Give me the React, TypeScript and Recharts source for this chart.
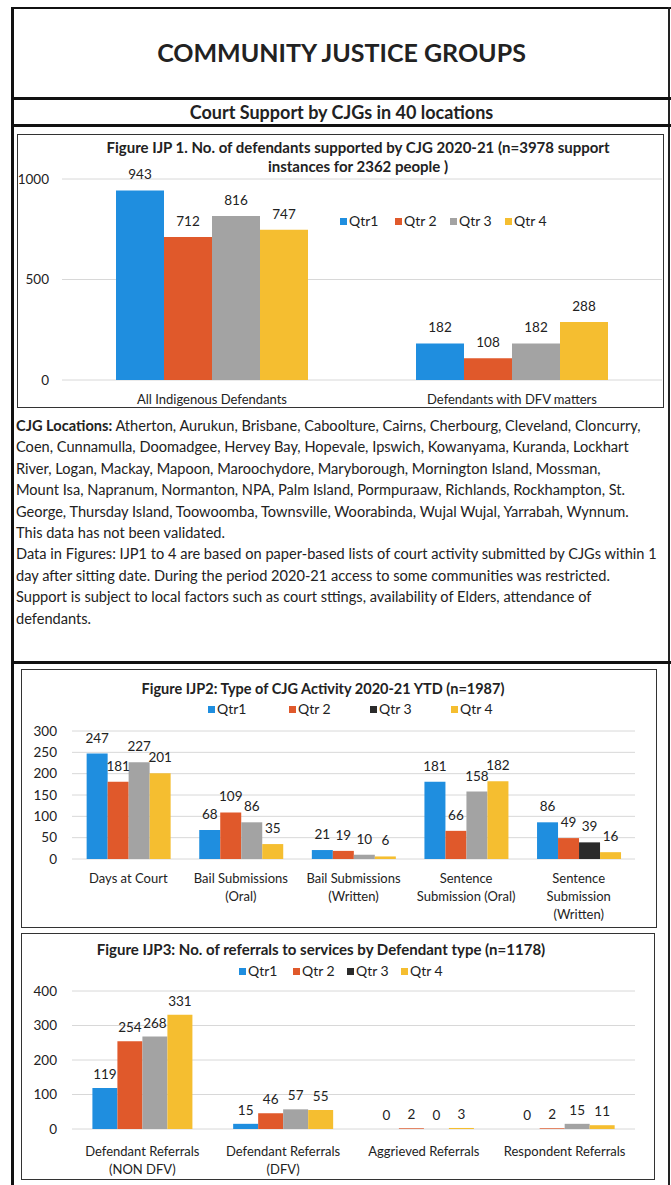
import React from "react";
import {
  BarChart,
  Bar,
  XAxis,
  YAxis,
  CartesianGrid,
  Legend,
  LabelList,
  Cell,
} from "recharts";

const FONT = "Lato, 'Open Sans', sans-serif";

const quarters = ["Qtr1", "Qtr 2", "Qtr 3", "Qtr 4"];

// Figure IJP 1
const ijp1Categories = ["All Indigenous Defendants", "Defendants with DFV matters"];
const ijp1Qtr1 = [943, 182];
const ijp1Qtr2 = [712, 108];
const ijp1Qtr3 = [816, 182];
const ijp1Qtr4 = [747, 288];
const ijp1Ticks = [0, 500, 1000];

// Figure IJP2
const ijp2Categories = [
  "Days at Court",
  "Bail Submissions\n(Oral)",
  "Bail Submissions\n(Written)",
  "Sentence\nSubmission (Oral)",
  "Sentence\nSubmission\n(Written)",
];
const ijp2Qtr1 = [247, 68, 21, 181, 86];
const ijp2Qtr2 = [181, 109, 19, 66, 49];
const ijp2Qtr3 = [227, 86, 10, 158, 39];
const ijp2Qtr4 = [201, 35, 6, 182, 16];
const ijp2Ticks = [0, 50, 100, 150, 200, 250, 300];

// Figure IJP3
const ijp3Categories = [
  "Defendant Referrals\n(NON DFV)",
  "Defendant Referrals\n(DFV)",
  "Aggrieved Referrals",
  "Respondent Referrals",
];
const ijp3Qtr1 = [119, 15, 0, 0];
const ijp3Qtr2 = [254, 46, 2, 2];
const ijp3Qtr3 = [268, 57, 0, 15];
const ijp3Qtr4 = [331, 55, 3, 11];
const ijp3Ticks = [0, 100, 200, 300, 400];

const locationLines = [
  "Atherton, Aurukun, Brisbane, Caboolture, Cairns, Cherbourg, Cleveland, Cloncurry,",
  "Coen, Cunnamulla, Doomadgee, Hervey Bay, Hopevale, Ipswich, Kowanyama, Kuranda, Lockhart",
  "River, Logan, Mackay, Mapoon, Maroochydore, Maryborough, Mornington Island, Mossman,",
  "Mount Isa, Napranum, Normanton, NPA, Palm Island, Pormpuraaw, Richlands, Rockhampton, St.",
  "George, Thursday Island, Toowoomba, Townsville, Woorabinda, Wujal Wujal, Yarrabah, Wynnum.",
  "This data has not been validated.",
  "Data in Figures: IJP1 to 4 are based on paper-based lists of court activity submitted by CJGs within 1",
  "day after sitting date. During the period 2020-21 access to some communities was restricted.",
  "Support is subject to local factors such as court sttings, availability of Elders, attendance of",
  "defendants.",
];

const BLUE = "#1f8edf";
const ORANGE = "#e0592b";
const GRAY = "#a3a3a3";
const YELLOW = "#f5be30";
const DARK = "#2b2b2b";

const buildRows = (cats: string[], q1: number[], q2: number[], q3: number[], q4: number[]) =>
  cats.map((name, i) => ({ name, q1: q1[i], q2: q2[i], q3: q3[i], q4: q4[i] }));

const CategoryTick = (props: any) => {
  const { x, y, payload, firstDy, lineHeight } = props;
  const lines = String(payload.value).split("\n");
  return (
    <text x={x} y={y} textAnchor="middle" fontSize={13} fill="#222" fontFamily={FONT}>
      {lines.map((l: string, i: number) => (
        <tspan key={i} x={x} dy={i === 0 ? firstDy : lineHeight}>
          {l}
        </tspan>
      ))}
    </text>
  );
};

// value label drawn above each bar, zero included
const ValueLabel = (props: any) => {
  const { x, y, width, value, offset } = props;
  if (value === undefined || value === null) return null;
  return (
    <text
      x={Number(x) + Number(width) / 2}
      y={Number(y) - offset}
      textAnchor="middle"
      fontSize={13.5}
      fill="#222"
      fontFamily={FONT}
    >
      {value}
    </text>
  );
};

// legend items kept in quarter order, Qtr 3 icon may differ from its bars
const makeLegend = (icons: string[], step: number) => (props: any) => {
  const payload = [...(props.payload || [])].sort(
    (a: any, b: any) => quarters.indexOf(a.value) - quarters.indexOf(b.value)
  );
  return (
    <div style={{ display: "flex", fontSize: 14, fontFamily: FONT, color: "#222", lineHeight: "16px" }}>
      {payload.map((p: any, i: number) => (
        <div key={i} style={{ width: step, display: "flex", alignItems: "center" }}>
          <span
            style={{ display: "inline-block", width: 7, height: 7, background: icons[i] ?? p.color, marginRight: 2 }}
          />
          {p.value}
        </div>
      ))}
    </div>
  );
};

type FigureProps = {
  rows: any[];
  ticks: number[];
  left: number;
  top: number;
  width: number;
  height: number;
  plotLeft: number;
  plotRight: number;
  plotTop: number;
  plotBottom: number;
  tickGap: number;
  categoryGap: string;
  labelOffset: number;
  tickDy: number;
  tickLineHeight: number;
  legendLeft: number;
  legendTop: number;
  legendStep: number;
  legendIcons: string[];
  darkQtr3?: number;
  title: string[];
  titleCenter: number;
  titleTop: number;
  titleSize: number;
};

const Figure = (f: FigureProps) => {
  const seriesKeys = ["q1", "q2", "q3", "q4"];
  const fills = [BLUE, ORANGE, GRAY, YELLOW];
  return (
    <>
      <div
        style={{
          position: "absolute",
          left: f.left,
          top: f.top,
          width: f.width,
          height: f.height,
          boxSizing: "border-box",
          border: "1.5px solid #333",
        }}
      />
      <div style={{ position: "absolute", left: f.left, top: f.top }}>
        <BarChart
          width={f.width}
          height={f.height}
          data={f.rows}
          margin={{ top: f.plotTop, right: f.width - f.plotRight, left: 0, bottom: 0 }}
          barCategoryGap={f.categoryGap}
          barGap={0}
        >
          <CartesianGrid vertical={false} stroke="#d8d8d8" />
          <XAxis
            dataKey="name"
            axisLine={false}
            tickLine={false}
            tickSize={0}
            interval={0}
            height={f.height - f.plotBottom}
            tick={(p: any) => <CategoryTick {...p} firstDy={f.tickDy} lineHeight={f.tickLineHeight} />}
          />
          <YAxis
            width={f.plotLeft}
            domain={[0, f.ticks[f.ticks.length - 1]]}
            ticks={f.ticks}
            interval={0}
            axisLine={false}
            tickLine={false}
            tickSize={0}
            tickMargin={f.tickGap}
            tick={{ fontSize: 13.5, fill: "#222", fontFamily: FONT }}
          />
          <Legend
            layout="horizontal"
            verticalAlign="middle"
            align="center"
            wrapperStyle={{ left: f.legendLeft, top: f.legendTop, width: "auto" }}
            content={makeLegend(f.legendIcons, f.legendStep)}
          />
          {seriesKeys.map((k, si) => (
            <Bar
              key={k}
              dataKey={k}
              name={quarters[si]}
              fill={fills[si]}
              minPointSize={0.01}
              isAnimationActive={false}
            >
              {k === "q3" &&
                f.darkQtr3 !== undefined &&
                f.rows.map((_, i) => <Cell key={i} fill={i === f.darkQtr3 ? DARK : GRAY} />)}
              <LabelList
                dataKey={k}
                position="top"
                content={(p: any) => <ValueLabel {...p} offset={f.labelOffset} />}
              />
            </Bar>
          ))}
        </BarChart>
      </div>
      {f.title.map((t, i) => (
        <div
          key={i}
          style={{
            position: "absolute",
            left: f.titleCenter - 320,
            width: 640,
            top: f.titleTop + i * 19,
            textAlign: "center",
            fontWeight: 700,
            fontSize: f.titleSize,
            fontFamily: FONT,
            color: "#222",
            lineHeight: "18px",
            whiteSpace: "nowrap",
          }}
        >
          {t}
        </div>
      ))}
    </>
  );
};

const Rule = ({ top, left = 12, width = 659, h = 3 }: any) => (
  <div style={{ position: "absolute", top, left, width, height: h, background: "#111" }} />
);

export default function App() {
  return (
    <div
      style={{
        position: "absolute",
        left: 0,
        top: 0,
        width: 671,
        height: 1185,
        background: "#fff",
        overflow: "hidden",
        fontFamily: FONT,
        color: "#222",
      }}
    >
      <Rule top={7} h={2} />
      <div style={{ position: "absolute", left: 11, top: 7, width: 3, height: 1178, background: "#111" }} />
      <div style={{ position: "absolute", left: 668, top: 7, width: 2, height: 1178, background: "#222" }} />
      <div
        style={{
          position: "absolute",
          left: 12,
          width: 659,
          top: 37,
          textAlign: "center",
          fontWeight: 700,
          fontSize: 25,
          lineHeight: "30px",
        }}
      >
        COMMUNITY JUSTICE GROUPS
      </div>
      <Rule top={97} />
      <div
        style={{
          position: "absolute",
          left: 12,
          width: 659,
          top: 100,
          textAlign: "center",
          fontWeight: 700,
          fontSize: 18,
          lineHeight: "24px",
        }}
      >
        Court Support by CJGs in 40 locations
      </div>
      <Rule top={124} />

      <Figure
        rows={buildRows(ijp1Categories, ijp1Qtr1, ijp1Qtr2, ijp1Qtr3, ijp1Qtr4)}
        ticks={ijp1Ticks}
        left={17}
        top={134}
        width={647}
        height={274}
        plotLeft={45}
        plotRight={645}
        plotTop={45}
        plotBottom={246}
        tickGap={13}
        categoryGap="18%"
        labelOffset={11}
        tickDy={22}
        tickLineHeight={18}
        legendLeft={323}
        legendTop={79}
        legendStep={55}
        legendIcons={[BLUE, ORANGE, GRAY, YELLOW]}
        title={[
          "Figure IJP 1. No. of defendants supported by CJG 2020-21 (n=3978 support",
          "instances for 2362 people )",
        ]}
        titleCenter={358}
        titleTop={138}
        titleSize={15}
      />

      {locationLines.map((line, i) => (
        <div
          key={i}
          style={{
            position: "absolute",
            left: 16,
            top: 415 + i * 21.4,
            fontSize: 14.6,
            lineHeight: "21px",
            whiteSpace: "nowrap",
          }}
        >
          {i === 0 && <b>CJG Locations:</b>}
          {i === 0 ? " " + line : line}
        </div>
      ))}

      <Rule top={661} />

      <Figure
        rows={buildRows(ijp2Categories, ijp2Qtr1, ijp2Qtr2, ijp2Qtr3, ijp2Qtr4)}
        ticks={ijp2Ticks}
        left={21}
        top={669}
        width={636}
        height={259}
        plotLeft={51}
        plotRight={614}
        plotTop={62}
        plotBottom={190}
        tickGap={15}
        categoryGap="13%"
        labelOffset={11}
        tickDy={22}
        tickLineHeight={18}
        legendLeft={187}
        legendTop={32}
        legendStep={81}
        legendIcons={[BLUE, ORANGE, DARK, YELLOW]}
        darkQtr3={4}
        title={["Figure IJP2: Type of CJG Activity 2020-21 YTD (n=1987)"]}
        titleCenter={323}
        titleTop={680}
        titleSize={14.5}
      />

      <Figure
        rows={buildRows(ijp3Categories, ijp3Qtr1, ijp3Qtr2, ijp3Qtr3, ijp3Qtr4)}
        ticks={ijp3Ticks}
        left={21}
        top={933}
        width={634}
        height={247}
        plotLeft={51}
        plotRight={614}
        plotTop={58}
        plotBottom={196}
        tickGap={15}
        categoryGap="14.5%"
        labelOffset={9}
        tickDy={25}
        tickLineHeight={18}
        legendLeft={218}
        legendTop={30}
        legendStep={54}
        legendIcons={[BLUE, ORANGE, DARK, YELLOW]}
        title={["Figure IJP3: No. of referrals to services by Defendant type (n=1178)"]}
        titleCenter={321}
        titleTop={940}
        titleSize={15}
      />
    </div>
  );
}
